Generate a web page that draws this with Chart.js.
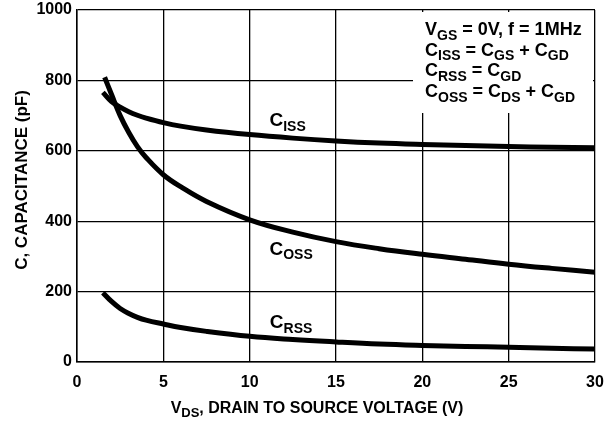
<!DOCTYPE html>
<html>
<head>
<meta charset="utf-8">
<script src="https://cdn.jsdelivr.net/npm/chart.js@4"></script>
<style>
  html, body { margin: 0; padding: 0; overflow: hidden; background: #fff; }
  #wrap { width: 605px; height: 431px; position: relative; }
  canvas { display: block; }
</style>
</head>
<body>
<div id="wrap"><canvas id="myChart"></canvas></div>
<script>
// drain-source voltage (V) and capacitances (pF)
var vds = [1.5, 2, 2.5, 3, 3.5, 4, 5, 6, 7.5, 10, 12.5, 15, 17.5, 20, 22.5, 25, 27.5, 30];
var vdsOss = [1.6, 2, 2.5, 3, 3.5, 4, 5, 6, 7.5, 10, 12.5, 15, 17.5, 20, 22.5, 25, 27.5, 30];
var ciss = [766, 740, 724, 711, 701, 693, 680, 670, 659, 646, 636, 628, 622, 618, 615, 612, 610, 609];
var coss = [809, 760, 700, 652, 612, 581, 532, 498, 456, 404, 369, 342, 322, 306, 292, 278, 266, 255];
var crss = [197, 172, 152, 138, 127, 119, 108, 98, 87, 73, 64, 57, 51, 47, 44, 42, 39, 37];
var xTicks = [0, 5, 10, 15, 20, 25, 30];
var yTicks = [0, 200, 400, 600, 800, 1000];

// curve labels: [main, subscript, x (V), y (pF)]
var curveLabels = [
    ['C', 'ISS', 12.2, 670],
    ['C', 'OSS', 12.4, 305],
    ['C', 'RSS', 12.4, 97]
];
// condition box lines, each a list of [text, isSubscript]
var noteLines = [
    [['V', 0], ['GS', 1], [' = 0V, f = 1MHz', 0]],
    [['C', 0], ['ISS', 1], [' = C', 0], ['GS', 1], [' + C', 0], ['GD', 1]],
    [['C', 0], ['RSS', 1], [' = C', 0], ['GD', 1]],
    [['C', 0], ['OSS', 1], [' = C', 0], ['DS', 1], [' + C', 0], ['GD', 1]]
];

function pts(xs, ys) {
    return xs.map(function (x, i) { return { x: x, y: ys[i] }; });
}

var FONT = '"Liberation Sans", Arial, sans-serif';

function drawRich(ctx, parts, x, y, size, subSize, align) {
    var w = 0;
    parts.forEach(function (p) {
        ctx.font = 'bold ' + (p[1] ? subSize : size) + 'px ' + FONT;
        w += ctx.measureText(p[0]).width;
    });
    var cx = align === 'center' ? x - w / 2 : x;
    ctx.textAlign = 'left';
    ctx.textBaseline = 'alphabetic';
    parts.forEach(function (p) {
        ctx.font = 'bold ' + (p[1] ? subSize : size) + 'px ' + FONT;
        ctx.fillText(p[0], cx, y + (p[1] ? size * 0.25 : 0));
        cx += ctx.measureText(p[0]).width;
    });
}

var extras = {
    id: 'extras',
    afterDatasetsDraw: function (chart) {
        var ctx = chart.ctx, xs = chart.scales.x, ys = chart.scales.y;
        ctx.save();
        ctx.fillStyle = '#000';
        curveLabels.forEach(function (l) {
            drawRich(ctx, [[l[0], 0], [l[1], 1]], xs.getPixelForValue(l[2]), ys.getPixelForValue(l[3]), 19, 14, 'center');
        });
        // condition box
        ctx.fillStyle = '#fff';
        ctx.fillRect(413, 12, 180, 101);
        ctx.fillStyle = '#000';
        noteLines.forEach(function (line, i) {
            drawRich(ctx, line, 425, 35 + i * 20.7, 18, 14, 'left');
        });
        // axis titles
        drawRich(ctx, [['V', 0], ['DS', 1], [', DRAIN TO SOURCE VOLTAGE (V)', 0]], 317, 413, 16, 13, 'center');
        ctx.save();
        ctx.translate(27, 180);
        ctx.rotate(-Math.PI / 2);
        drawRich(ctx, [['C, CAPACITANCE (pF)', 0]], 0, 0, 17, 13, 'center');
        ctx.restore();
        ctx.restore();
    }
};

var lineStyle = {
    borderColor: '#000',
    borderWidth: 5,
    pointRadius: 0,
    fill: false,
    tension: 0.4
};

var ctx = document.getElementById('myChart').getContext('2d');
var myChart = new Chart(ctx, {
    type: 'line',
    data: {
        datasets: [
            Object.assign({ label: 'CISS', data: pts(vds, ciss) }, lineStyle),
            Object.assign({ label: 'COSS', data: pts(vdsOss, coss) }, lineStyle),
            Object.assign({ label: 'CRSS', data: pts(vds, crss) }, lineStyle)
        ]
    },
    options: {
        responsive: true,
        maintainAspectRatio: false,
        animation: false,
        layout: { padding: { top: 10, right: 10 } },
        plugins: {
            legend: { display: false },
            tooltip: { enabled: false }
        },
        scales: {
            x: {
                type: 'linear',
                min: 0,
                max: 30,
                afterBuildTicks: function (s) { s.ticks = xTicks.map(function (v) { return { value: v }; }); },
                afterFit: function (s) { s.height = 69; s.paddingLeft = 0; s.paddingRight = 0; },
                grid: { color: '#000', lineWidth: 1.3, drawTicks: false },
                border: { color: '#000', width: 1.5 },
                ticks: { color: '#000', padding: 11, font: { family: FONT, size: 16, weight: 'bold' },
                    callback: function (v) { return String(v); } }
            },
            y: {
                min: 0,
                max: 1000,
                afterBuildTicks: function (s) { s.ticks = yTicks.map(function (v) { return { value: v }; }); },
                afterFit: function (s) { s.width = 77; s.paddingTop = 0; s.paddingBottom = 0; },
                grid: { color: '#000', lineWidth: 1.3, drawTicks: false },
                border: { color: '#000', width: 1.5 },
                ticks: { color: '#000', padding: 5, font: { family: FONT, size: 16, weight: 'bold' },
                    callback: function (v) { return String(v); } }
            }
        }
    },
    plugins: [extras]
});
</script>
</body>
</html>
